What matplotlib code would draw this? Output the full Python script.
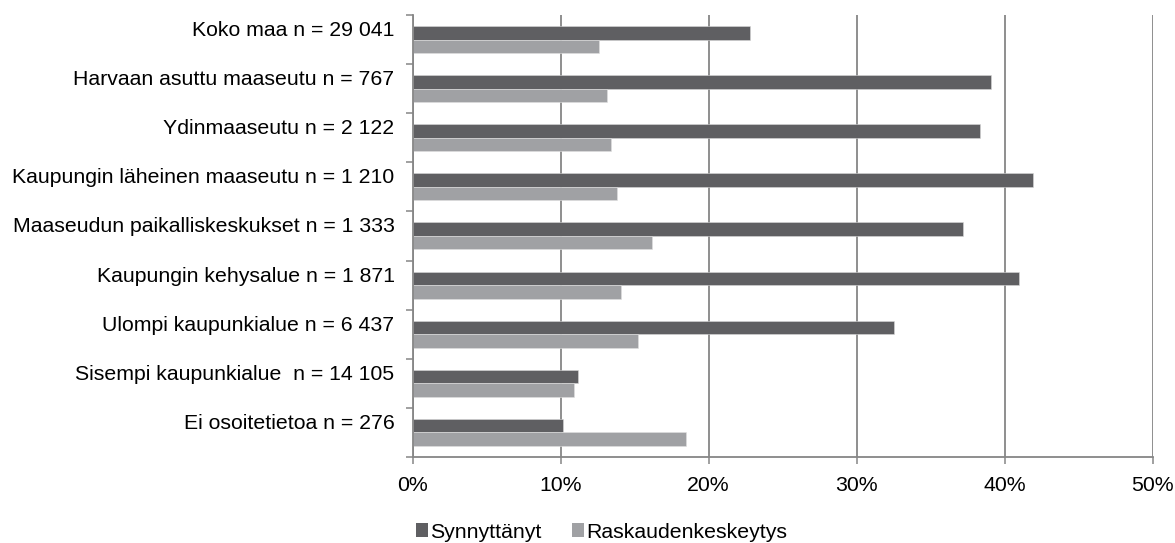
import matplotlib
matplotlib.use("Agg")
import matplotlib.pyplot as plt
from matplotlib.patches import Patch
from matplotlib.transforms import ScaledTranslation
import numpy as np

categories = [
    "Koko maa n = 29 041",
    "Harvaan asuttu maaseutu n = 767",
    "Ydinmaaseutu n = 2 122",
    "Kaupungin läheinen maaseutu n = 1 210",
    "Maaseudun paikalliskeskukset n = 1 333",
    "Kaupungin kehysalue n = 1 871",
    "Ulompi kaupunkialue n = 6 437",
    "Sisempi kaupunkialue  n = 14 105",
    "Ei osoitetietoa n = 276",
]
synnyttanyt = [22.8, 39.1, 38.35, 41.9, 37.2, 41.0, 32.5, 11.2, 10.15]
raskaudenkeskeytys = [12.6, 13.15, 13.4, 13.8, 16.2, 14.1, 15.2, 10.9, 18.5]
series_names = ["Synnyttänyt", "Raskaudenkeskeytys"]
xticks = [0, 10, 20, 30, 40, 50]
xticklabels = ["0%", "10%", "20%", "30%", "40%", "50%"]

plt.rcParams['font.family'] = ['Liberation Sans', 'DejaVu Sans']

dark = "#5f5f62"
light = "#a0a1a4"
gridc = "#868686"

fig = plt.figure(figsize=(11.75, 5.43), dpi=100)
ax = fig.add_axes([0.3512, 0.1584, 0.981 - 0.3512, 0.9724 - 0.1584])

y = np.arange(len(categories))
h = 0.275
ax.barh(y - h / 2, synnyttanyt, height=h, color=dark, edgecolor="#d8d8d8", linewidth=0.4, zorder=3)
ax.barh(y + h / 2, raskaudenkeskeytys, height=h, color=light, edgecolor="#e0e0e0", linewidth=0.4, zorder=3)

ax.set_xlim(0, 50)
ax.set_ylim(len(categories) - 0.5, -0.5)

ax.set_xticks(xticks)
ax.set_xticklabels(xticklabels, fontsize=15.3)
ax.set_yticks(y)
ax.set_yticklabels(categories, fontsize=15.3)
ax.set_yticks(np.arange(-0.5, len(categories) + 0.5, 1), minor=True)

ax.tick_params(axis='y', which='major', length=0, pad=13)
ax.tick_params(axis='y', which='minor', length=5, width=1.1, color=gridc)
ax.tick_params(axis='x', which='major', length=5, width=1.1, color=gridc, pad=9)

shift = ScaledTranslation(0, 0.11, fig.dpi_scale_trans)
for lbl in ax.get_yticklabels():
    lbl.set_transform(lbl.get_transform() + shift)

ax.xaxis.grid(True, color=gridc, linewidth=1.3, zorder=0)
ax.set_axisbelow(True)
for s in ["top", "right"]:
    ax.spines[s].set_visible(False)
for s in ["left", "bottom"]:
    ax.spines[s].set_color(gridc)
    ax.spines[s].set_linewidth(1.3)
    ax.spines[s].set_zorder(4)

handles = [Patch(facecolor=dark, edgecolor="none"), Patch(facecolor=light, edgecolor="none")]
fig.legend(handles, series_names, loc="center", bbox_to_anchor=(0.512, 0.02),
           ncol=2, frameon=False, fontsize=15.3, handlelength=0.6, handleheight=0.6,
           handletextpad=0.1, columnspacing=1.4, borderaxespad=0, borderpad=0)

fig.savefig("out.png", dpi=100)
